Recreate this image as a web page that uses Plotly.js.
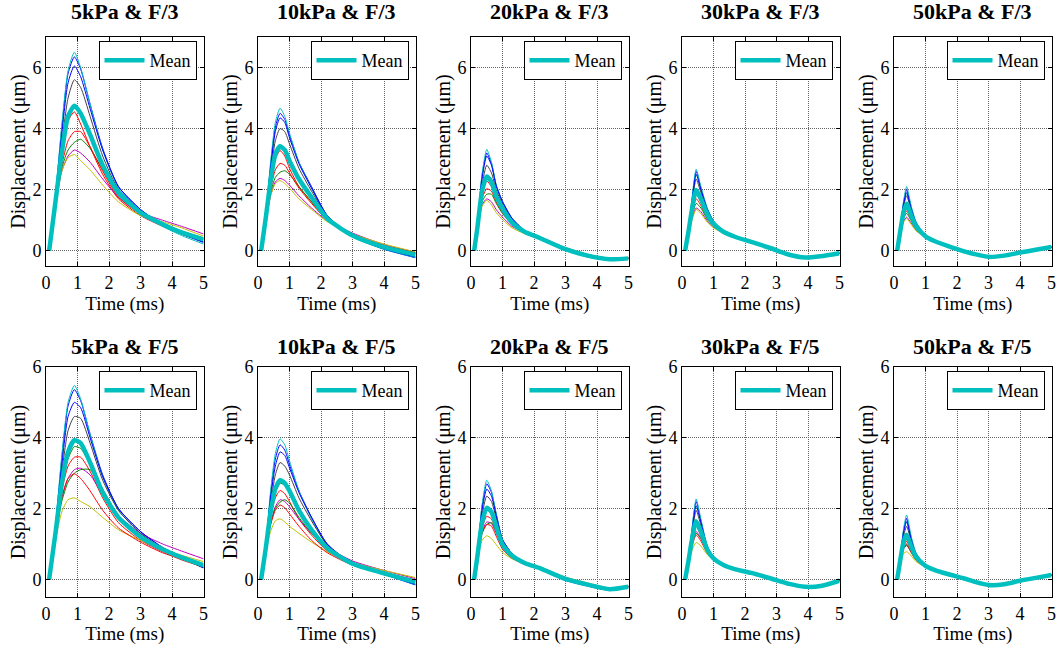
<!DOCTYPE html>
<html><head><meta charset="utf-8">
<script src="https://cdn.plot.ly/plotly-3.0.1.min.js"></script>
<style>html,body{margin:0;padding:0;background:#fff;} #chart{width:1057px;height:645px;}</style>
</head><body><div id="chart"></div>
<script>
// ---------------- DATA ----------------
const panelTitles = ['5kPa & F/3','10kPa & F/3','20kPa & F/3','30kPa & F/3','50kPa & F/3',
                     '5kPa & F/5','10kPa & F/5','20kPa & F/5','30kPa & F/5','50kPa & F/5'];
const xTitle = 'Time (ms)';
const yTitle = 'Displacement (μm)';
const meanName = 'Mean';
// run order: blue, green, red, cyan, magenta, yellow, dark gray, blue, green, red
const runColors = ['#0000ff','#008000','#ff0000','#00bfbf','#bf00bf','#bfbf00','#404040','#0000ff','#008000','#ff0000'];
const meanColor = '#00bfbf';

const T5  = [0.1,0.3,0.5,0.7,0.9,1.1,1.4,1.8,2.3,3.0,3.7,4.3,5.0];
const T10 = [0.1,0.25,0.4,0.55,0.7,0.85,1.0,1.3,1.7,2.2,3.0,4.0,5.0];
const T20 = [0.1,0.2,0.35,0.5,0.65,0.8,1.0,1.3,1.7,2.2,3.0,3.7,4.4,5.0];
const T30 = [0.1,0.2,0.3,0.45,0.6,0.8,1.0,1.3,1.7,2.2,2.8,3.4,3.9,4.4,5.0];
const T50 = [0.1,0.2,0.3,0.4,0.55,0.7,1.0,1.3,1.7,2.2,2.6,3.0,3.5,4.0,4.5,5.0];

// 5kPa & F/3
const runs_5kPa_F3 = [
  [0,1.8,4.0,5.8,6.35,5.95,4.8,3.35,2.1,1.35,0.85,0.55,0.27],
  [0,1.6,3.1,4.3,4.7,4.5,3.8,2.75,1.85,1.25,0.85,0.6,0.38],
  [0,1.6,3.1,4.25,4.55,4.15,3.4,2.5,1.7,1.15,0.8,0.55,0.35],
  [0,1.8,4.1,5.9,6.5,6.0,4.8,3.3,2.05,1.3,0.8,0.5,0.22],
  [0,1.5,2.6,3.1,3.3,3.2,2.9,2.35,1.75,1.25,1.0,0.8,0.55],
  [0,1.5,2.6,3.05,3.15,2.95,2.65,2.15,1.6,1.15,0.95,0.75,0.48],
  [0,1.6,3.5,5.0,5.6,5.35,4.4,3.1,2.0,1.3,0.85,0.55,0.3],
  [0,1.7,3.8,5.5,6.05,5.7,4.65,3.3,2.1,1.35,0.85,0.55,0.3],
  [0,1.5,2.7,3.3,3.55,3.65,3.35,2.65,1.8,1.2,0.9,0.65,0.42],
  [0,1.5,2.8,3.6,3.9,3.9,3.4,2.6,1.75,1.2,0.85,0.6,0.4]
];
const mean_5kPa_F3 = [0,1.6,3.2,4.4,4.75,4.5,3.8,2.8,1.9,1.25,0.87,0.6,0.37];

// 10kPa & F/3
const runs_10kPa_F3 = [
  [0,1.2,2.8,4.05,4.5,4.3,3.8,2.9,2.1,1.15,0.47,0.05,-0.23],
  [0,1.05,2.3,3.1,3.4,3.3,3.0,2.4,1.8,1.1,0.5,0.12,-0.12],
  [0,1.05,2.2,3.0,3.28,3.1,2.7,2.1,1.6,1.0,0.5,0.14,-0.1],
  [0,1.2,2.9,4.2,4.67,4.4,3.85,2.9,2.05,1.1,0.45,0.05,-0.22],
  [0,1.0,1.8,2.25,2.37,2.3,2.15,1.8,1.4,0.98,0.58,0.2,-0.05],
  [0,1.0,1.8,2.2,2.3,2.2,2.05,1.7,1.35,0.95,0.55,0.22,-0.04],
  [0,1.1,2.5,3.6,4.0,3.9,3.5,2.7,1.95,1.12,0.48,0.08,-0.18],
  [0,1.15,2.7,3.9,4.35,4.2,3.7,2.85,2.05,1.15,0.47,0.06,-0.2],
  [0,1.0,1.9,2.4,2.57,2.62,2.5,2.1,1.6,1.0,0.52,0.16,-0.07],
  [0,1.0,2.0,2.65,2.86,2.8,2.55,2.05,1.55,1.0,0.52,0.16,-0.08]
];
const mean_10kPa_F3 = [0,1.1,2.3,3.15,3.42,3.3,2.95,2.35,1.75,1.05,0.5,0.12,-0.13];

// 20kPa & F/3
const runs_20kPa_F3 = [
  [0,0.8,2.45,3.2,2.85,2.15,1.62,1.07,0.66,0.4,0.02,-0.2,-0.31,-0.26],
  [0,0.72,1.9,2.4,2.25,1.8,1.4,0.95,0.62,0.41,0.06,-0.16,-0.27,-0.24],
  [0,0.72,1.85,2.28,2.1,1.68,1.3,0.9,0.6,0.4,0.06,-0.15,-0.27,-0.24],
  [0,0.8,2.5,3.32,2.9,2.15,1.6,1.05,0.65,0.4,0.02,-0.2,-0.3,-0.26],
  [0,0.68,1.5,1.7,1.6,1.35,1.1,0.8,0.6,0.45,0.1,-0.12,-0.26,-0.24],
  [0,0.68,1.45,1.65,1.5,1.25,1.02,0.75,0.56,0.42,0.1,-0.12,-0.25,-0.24],
  [0,0.75,2.15,2.8,2.55,2.0,1.52,1.02,0.64,0.41,0.04,-0.18,-0.29,-0.25],
  [0,0.78,2.35,3.1,2.8,2.12,1.6,1.06,0.66,0.41,0.03,-0.19,-0.3,-0.25],
  [0,0.7,1.6,1.85,1.85,1.55,1.22,0.86,0.58,0.4,0.07,-0.14,-0.26,-0.24],
  [0,0.7,1.7,2.03,1.95,1.6,1.25,0.88,0.6,0.4,0.07,-0.15,-0.26,-0.24]
];
const mean_20kPa_F3 = [0,0.73,1.95,2.43,2.25,1.78,1.38,0.93,0.62,0.41,0.05,-0.16,-0.28,-0.25];

// 30kPa & F/3
const runs_30kPa_F3 = [
  [0,0.65,1.5,2.6,2.05,1.38,0.97,0.67,0.45,0.28,0.08,-0.14,-0.23,-0.18,-0.08],
  [0,0.58,1.25,1.95,1.65,1.18,0.88,0.63,0.45,0.3,0.1,-0.12,-0.22,-0.18,-0.08],
  [0,0.58,1.2,1.85,1.58,1.12,0.85,0.62,0.44,0.3,0.1,-0.12,-0.22,-0.18,-0.08],
  [0,0.65,1.55,2.67,2.1,1.4,0.98,0.67,0.45,0.28,0.08,-0.14,-0.23,-0.18,-0.08],
  [0,0.52,0.98,1.4,1.28,0.98,0.78,0.6,0.46,0.32,0.12,-0.11,-0.22,-0.18,-0.08],
  [0,0.52,0.95,1.35,1.22,0.94,0.75,0.58,0.44,0.31,0.11,-0.11,-0.22,-0.18,-0.08],
  [0,0.62,1.4,2.35,1.9,1.3,0.93,0.65,0.45,0.29,0.09,-0.13,-0.22,-0.18,-0.08],
  [0,0.63,1.45,2.5,2.0,1.36,0.96,0.66,0.45,0.28,0.08,-0.14,-0.23,-0.18,-0.08],
  [0,0.55,1.05,1.55,1.4,1.04,0.81,0.6,0.44,0.3,0.1,-0.12,-0.22,-0.18,-0.08],
  [0,0.56,1.1,1.7,1.48,1.08,0.83,0.61,0.44,0.3,0.1,-0.12,-0.22,-0.18,-0.08]
];
const mean_30kPa_F3 = [0,0.59,1.25,1.99,1.7,1.2,0.88,0.63,0.45,0.29,0.09,-0.13,-0.22,-0.18,-0.08];

// 50kPa & F/3
const runs_50kPa_F3 = [
  [0,0.75,1.55,2.0,1.4,0.93,0.5,0.32,0.16,-0.02,-0.13,-0.2,-0.16,-0.06,0.03,0.12],
  [0,0.65,1.25,1.55,1.15,0.8,0.47,0.31,0.16,-0.01,-0.12,-0.19,-0.16,-0.06,0.03,0.12],
  [0,0.62,1.15,1.38,1.05,0.75,0.45,0.31,0.16,-0.01,-0.12,-0.19,-0.16,-0.06,0.03,0.12],
  [0,0.75,1.6,2.1,1.45,0.95,0.5,0.32,0.16,-0.02,-0.13,-0.2,-0.16,-0.06,0.03,0.12],
  [0,0.55,0.95,1.1,0.9,0.68,0.44,0.31,0.17,0.0,-0.11,-0.19,-0.16,-0.06,0.03,0.12],
  [0,0.55,0.92,1.05,0.86,0.65,0.43,0.3,0.16,0.0,-0.11,-0.19,-0.16,-0.06,0.03,0.12],
  [0,0.7,1.42,1.8,1.3,0.88,0.49,0.32,0.16,-0.02,-0.13,-0.2,-0.16,-0.06,0.03,0.12],
  [0,0.72,1.5,1.9,1.35,0.9,0.49,0.32,0.16,-0.02,-0.13,-0.2,-0.16,-0.06,0.03,0.12],
  [0,0.58,1.05,1.22,0.97,0.7,0.44,0.3,0.16,-0.01,-0.12,-0.19,-0.16,-0.06,0.03,0.12],
  [0,0.6,1.1,1.3,1.0,0.72,0.45,0.31,0.16,-0.01,-0.12,-0.19,-0.16,-0.06,0.03,0.12]
];
const mean_50kPa_F3 = [0,0.65,1.25,1.54,1.14,0.8,0.47,0.31,0.16,-0.01,-0.12,-0.2,-0.16,-0.06,0.03,0.12];

// 5kPa & F/5
const runs_5kPa_F5 = [
  [0,1.5,3.4,4.9,5.36,5.05,4.1,2.95,2.0,1.35,0.9,0.62,0.33],
  [0,1.3,2.6,3.4,3.75,3.7,3.25,2.45,1.75,1.2,0.85,0.6,0.38],
  [0,1.3,2.5,3.2,3.45,3.45,3.05,2.3,1.6,1.1,0.78,0.55,0.35],
  [0,1.5,3.5,5.0,5.48,5.1,4.1,2.9,1.95,1.3,0.85,0.6,0.33],
  [0,1.2,2.3,2.85,3.1,3.14,2.95,2.4,1.8,1.3,1.0,0.8,0.58],
  [0,1.1,1.9,2.25,2.3,2.2,2.05,1.75,1.4,1.1,0.85,0.68,0.5],
  [0,1.4,3.0,4.2,4.6,4.55,3.85,2.8,1.95,1.3,0.88,0.6,0.32],
  [0,1.45,3.2,4.6,5.0,4.85,4.0,2.9,2.0,1.35,0.9,0.62,0.33],
  [0,1.2,2.2,2.75,3.0,3.1,3.1,2.55,1.8,1.2,0.85,0.62,0.4],
  [0,1.2,2.3,2.85,2.98,2.85,2.5,1.95,1.45,1.05,0.75,0.58,0.38]
];
const mean_5kPa_F5 = [0,1.3,2.7,3.6,3.93,3.85,3.3,2.45,1.75,1.2,0.85,0.62,0.4];

// 10kPa & F/5
const runs_10kPa_F5 = [
  [0,1.0,2.4,3.4,3.8,3.65,3.25,2.5,1.75,0.98,0.43,0.14,-0.16],
  [0,0.9,1.85,2.45,2.72,2.65,2.45,1.95,1.45,0.9,0.45,0.18,-0.08],
  [0,0.9,1.75,2.3,2.51,2.42,2.2,1.7,1.25,0.8,0.42,0.18,-0.06],
  [0,1.0,2.5,3.55,3.97,3.8,3.35,2.5,1.7,0.95,0.42,0.14,-0.15],
  [0,0.85,1.6,2.05,2.25,2.2,2.05,1.7,1.3,0.9,0.52,0.25,0.02],
  [0,0.8,1.35,1.65,1.71,1.62,1.5,1.3,1.05,0.78,0.48,0.25,0.05],
  [0,0.95,2.1,2.95,3.3,3.2,2.95,2.3,1.65,0.97,0.45,0.16,-0.12],
  [0,0.95,2.3,3.2,3.6,3.5,3.15,2.45,1.75,1.0,0.44,0.15,-0.14],
  [0,0.85,1.55,2.0,2.18,2.25,2.15,1.75,1.3,0.85,0.45,0.2,-0.03],
  [0,0.85,1.55,1.95,2.1,2.02,1.85,1.5,1.1,0.75,0.4,0.18,-0.02]
];
const mean_10kPa_F5 = [0,0.9,1.9,2.55,2.8,2.72,2.5,1.95,1.4,0.88,0.44,0.17,-0.07];

// 20kPa & F/5
const runs_20kPa_F5 = [
  [0,0.7,2.05,2.7,2.45,1.85,1.13,0.73,0.47,0.3,-0.03,-0.19,-0.31,-0.22],
  [0,0.62,1.6,2.0,1.9,1.52,1.0,0.68,0.46,0.31,0.01,-0.15,-0.27,-0.2],
  [0,0.6,1.45,1.78,1.7,1.35,0.9,0.62,0.43,0.3,0.02,-0.14,-0.26,-0.2],
  [0,0.7,2.1,2.8,2.5,1.85,1.12,0.72,0.46,0.3,-0.02,-0.18,-0.3,-0.22],
  [0,0.58,1.35,1.62,1.58,1.3,0.92,0.66,0.48,0.34,0.05,-0.12,-0.25,-0.2],
  [0,0.55,1.1,1.23,1.15,0.98,0.76,0.58,0.44,0.33,0.06,-0.1,-0.25,-0.2],
  [0,0.66,1.8,2.35,2.2,1.72,1.08,0.72,0.47,0.3,-0.01,-0.17,-0.29,-0.21],
  [0,0.68,1.95,2.55,2.35,1.8,1.12,0.73,0.47,0.3,-0.02,-0.18,-0.3,-0.21],
  [0,0.58,1.3,1.55,1.6,1.35,0.95,0.67,0.47,0.32,0.03,-0.13,-0.26,-0.2],
  [0,0.58,1.3,1.55,1.5,1.22,0.85,0.6,0.42,0.3,0.03,-0.13,-0.26,-0.2]
];
const mean_20kPa_F5 = [0,0.63,1.6,2.02,1.9,1.5,0.98,0.67,0.46,0.31,0.01,-0.15,-0.28,-0.21];

// 30kPa & F/5
const runs_30kPa_F5 = [
  [0,0.55,1.28,2.2,1.66,0.94,0.63,0.42,0.28,0.17,0.02,-0.15,-0.22,-0.19,-0.04],
  [0,0.48,1.02,1.62,1.32,0.84,0.6,0.41,0.28,0.18,0.04,-0.13,-0.21,-0.18,-0.04],
  [0,0.47,0.98,1.5,1.22,0.78,0.56,0.4,0.28,0.18,0.04,-0.13,-0.21,-0.18,-0.04],
  [0,0.55,1.3,2.27,1.7,0.95,0.63,0.42,0.28,0.17,0.02,-0.14,-0.22,-0.19,-0.04],
  [0,0.45,0.92,1.35,1.15,0.8,0.6,0.43,0.3,0.2,0.05,-0.12,-0.21,-0.18,-0.04],
  [0,0.42,0.78,1.04,0.94,0.7,0.55,0.41,0.29,0.19,0.05,-0.12,-0.21,-0.18,-0.04],
  [0,0.52,1.15,1.95,1.52,0.9,0.61,0.42,0.28,0.17,0.03,-0.14,-0.21,-0.19,-0.04],
  [0,0.54,1.22,2.08,1.6,0.92,0.62,0.42,0.28,0.17,0.02,-0.14,-0.22,-0.19,-0.04],
  [0,0.45,0.9,1.3,1.15,0.8,0.58,0.42,0.29,0.19,0.05,-0.12,-0.21,-0.18,-0.04],
  [0,0.45,0.88,1.25,1.08,0.74,0.55,0.4,0.28,0.18,0.04,-0.13,-0.21,-0.18,-0.04]
];
const mean_30kPa_F5 = [0,0.49,1.04,1.64,1.35,0.84,0.59,0.41,0.28,0.18,0.03,-0.13,-0.21,-0.19,-0.04];

// 50kPa & F/5
const runs_50kPa_F5 = [
  [0,0.65,1.35,1.72,1.15,0.73,0.4,0.26,0.15,0.03,-0.08,-0.16,-0.14,-0.04,0.04,0.12],
  [0,0.55,1.02,1.22,0.9,0.62,0.38,0.26,0.15,0.03,-0.08,-0.16,-0.14,-0.04,0.04,0.12],
  [0,0.52,0.92,1.07,0.8,0.57,0.36,0.25,0.15,0.03,-0.08,-0.16,-0.14,-0.04,0.04,0.12],
  [0,0.65,1.4,1.82,1.2,0.75,0.4,0.26,0.15,0.03,-0.08,-0.16,-0.14,-0.04,0.04,0.12],
  [0,0.48,0.85,0.95,0.78,0.57,0.37,0.26,0.16,0.04,-0.07,-0.16,-0.14,-0.04,0.04,0.12],
  [0,0.45,0.72,0.78,0.66,0.5,0.35,0.25,0.15,0.04,-0.07,-0.16,-0.14,-0.04,0.04,0.12],
  [0,0.6,1.2,1.5,1.05,0.68,0.39,0.26,0.15,0.03,-0.08,-0.16,-0.14,-0.04,0.04,0.12],
  [0,0.63,1.3,1.63,1.1,0.71,0.39,0.26,0.15,0.03,-0.08,-0.16,-0.14,-0.04,0.04,0.12],
  [0,0.5,0.88,0.97,0.76,0.56,0.36,0.25,0.15,0.03,-0.08,-0.16,-0.14,-0.04,0.04,0.12],
  [0,0.5,0.9,1.0,0.75,0.54,0.35,0.25,0.15,0.03,-0.08,-0.16,-0.14,-0.04,0.04,0.12]
];
const mean_50kPa_F5 = [0,0.55,1.05,1.26,0.92,0.63,0.38,0.26,0.15,0.03,-0.08,-0.16,-0.14,-0.04,0.04,0.12];

const panelTimes = [T5,T10,T20,T30,T50,T5,T10,T20,T30,T50];
const panelRuns  = [runs_5kPa_F3,runs_10kPa_F3,runs_20kPa_F3,runs_30kPa_F3,runs_50kPa_F3,
                    runs_5kPa_F5,runs_10kPa_F5,runs_20kPa_F5,runs_30kPa_F5,runs_50kPa_F5];
const panelMeans = [mean_5kPa_F3,mean_10kPa_F3,mean_20kPa_F3,mean_30kPa_F3,mean_50kPa_F3,
                    mean_5kPa_F5,mean_10kPa_F5,mean_20kPa_F5,mean_30kPa_F5,mean_50kPa_F5];
const rowYRange = [[-0.5,7],[-0.5,6]];
const yTicks = [0,2,4,6];
const xTicks = [0,1,2,3,4,5];

// ---------------- LAYOUT ----------------
const W = 1057, H = 645;
const colLeft = [46, 258, 471, 682, 894];
const plotW = 157.5;
const rowTop = [37, 367], rowBottom = [266, 597];
const FONT = 'Liberation Serif';

const traces = [];
const layout = {
  width: W, height: H, margin: {l:0, r:0, t:0, b:0},
  paper_bgcolor: '#ffffff', plot_bgcolor: '#ffffff',
  font: {family: FONT, size: 18, color: '#000'},
  annotations: [], showlegend: true
};

for (let k = 0; k < 10; k++) {
  const r = k < 5 ? 0 : 1, c = k % 5, n = k + 1;
  const xa = n === 1 ? 'x' : 'x' + n, ya = n === 1 ? 'y' : 'y' + n;
  const lg = n === 1 ? 'legend' : 'legend' + n;
  const t = panelTimes[k];
  panelRuns[k].forEach((vals, i) => {
    traces.push({type:'scatter', mode:'lines', x:t, y:vals, xaxis:xa, yaxis:ya,
      line:{color:runColors[i], width:1, shape:'spline', smoothing:0.6},
      showlegend:false, hoverinfo:'skip'});
  });
  traces.push({type:'scatter', mode:'lines', x:t, y:panelMeans[k], xaxis:xa, yaxis:ya,
    name: meanName, legend: lg, showlegend:true,
    line:{color:meanColor, width:4.5, shape:'spline', smoothing:0.6}});

  const axCommon = {showline:true, linecolor:'#000', linewidth:1, mirror:'allticks',
    ticks:'inside', ticklen:4, tickcolor:'#000', showgrid:true, gridcolor:'#666', griddash:'1px,1px',
    gridwidth:1, zeroline:false, tickfont:{family:FONT, size:18, color:'#000'}, fixedrange:true};
  layout['xaxis' + (n===1?'':n)] = Object.assign({}, axCommon, {
    domain:[colLeft[c]/W, (colLeft[c]+plotW)/W], anchor: ya, range:[0,5],
    tickvals: xTicks, ticktext: xTicks.map(String),
    title:{text:xTitle, font:{family:FONT, size:19, color:'#000'}, standoff:0}
  });
  layout['yaxis' + (n===1?'':n)] = Object.assign({}, axCommon, {
    domain:[1-rowBottom[r]/H, 1-rowTop[r]/H], anchor: xa, range: rowYRange[r],
    tickvals: yTicks, ticktext: yTicks.map(String),
    title:{text:yTitle, font:{family:FONT, size:20, color:'#000'}, standoff:1}
  });
  layout[lg] = {x:(colLeft[c]+plotW-7)/W, xanchor:'right', y:1-(rowTop[r]+4)/H, yanchor:'top',
    bgcolor:'#fff', bordercolor:'#000', borderwidth:1,
    font:{family:FONT, size:18, color:'#000'}, itemwidth:40, tracegroupgap:0};
  layout.annotations.push({text:'<b>'+panelTitles[k]+'</b>', xref:'paper', yref:'paper',
    x:(colLeft[c]+plotW/2)/W, y:1-(r===0?12:346)/H, xanchor:'center', yanchor:'middle',
    showarrow:false, font:{family:FONT, size:22, color:'#000'}});
}

Plotly.newPlot('chart', traces, layout, {displayModeBar:false, staticPlot:true});
</script>
</body></html>
